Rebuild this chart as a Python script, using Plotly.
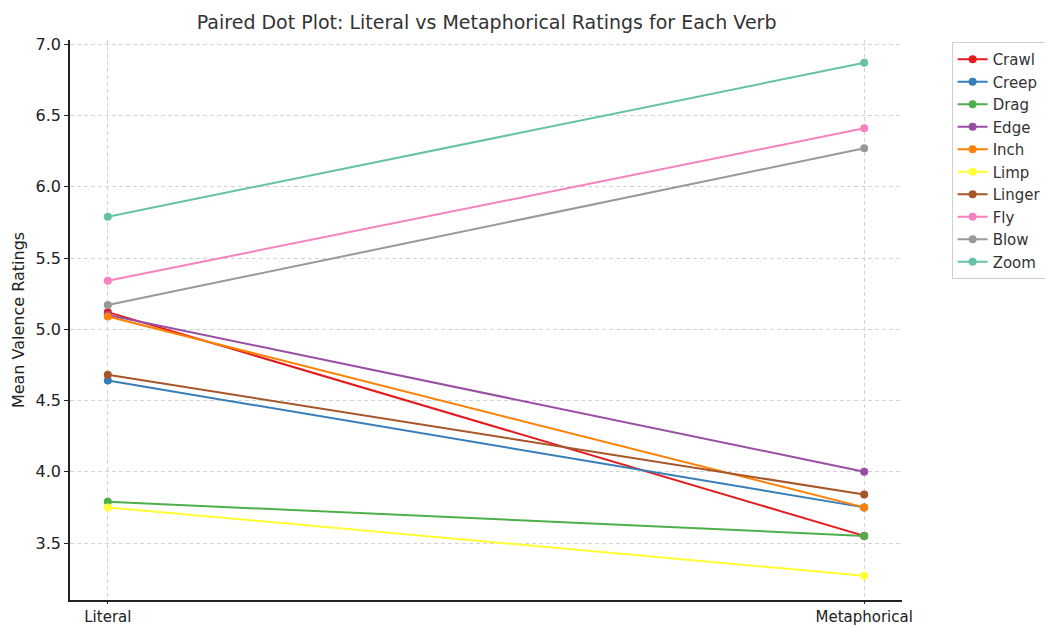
import plotly.graph_objects as go

# ── Data ─────────────────────────────────────────────────────────────────────
conditions = ["Literal", "Metaphorical"]
verbs = ["Crawl", "Creep", "Drag", "Edge", "Inch", "Limp", "Linger", "Fly", "Blow", "Zoom"]
literal = [5.12, 4.64, 3.79, 5.10, 5.09, 3.75, 4.68, 5.34, 5.17, 5.79]
metaphorical = [3.55, 3.75, 3.55, 4.00, 3.75, 3.27, 3.84, 6.41, 6.27, 6.87]
colors = ["#e41a1c", "#377eb8", "#4daf4a", "#984ea3", "#ff7f00",
          "#ffff33", "#a65628", "#f781bf", "#999999", "#66c2a5"]
y_ticks = [3.5, 4.0, 4.5, 5.0, 5.5, 6.0, 6.5, 7.0]

fig = go.Figure()
for verb, lit, met, col in zip(verbs, literal, metaphorical, colors):
    fig.add_trace(go.Scatter(
        x=[0, 1],
        y=[lit, met],
        mode="lines+markers",
        name=verb,
        line=dict(color=col, width=2),
        marker=dict(color=col, size=8),
    ))

grid = dict(showgrid=True, gridcolor="#d3d3d3", griddash="4px,3px", gridwidth=1,
            zeroline=False, showline=True, linecolor="#222222", linewidth=1.5,
            ticks="outside", tickcolor="#222222", automargin=False)

# the page body adds an 8px offset, so the figure is sized a bit smaller
fig.update_layout(
    width=1045, height=617,
    title=dict(text="Paired Dot Plot: Literal vs Metaphorical Ratings for Each Verb",
               x=0.458, xanchor="center", y=0.977, yanchor="middle",
               font=dict(size=19, color="#333333")),
    font=dict(family="DejaVu Sans", color="#222222"),
    paper_bgcolor="white", plot_bgcolor="white",
    margin=dict(l=62, r=151, t=32, b=25),
    xaxis=dict(range=[-0.05, 1.05], tickvals=[0, 1], ticktext=conditions,
               ticklen=2, tickfont=dict(size=15, color="#222222"), **grid),
    yaxis=dict(range=[3.1, 7.03], tickvals=y_ticks, tickformat=".1f",
               ticklen=4, tickfont=dict(size=16, color="#222222"),
               title=dict(text="Mean Valence Ratings", font=dict(size=16), standoff=7),
               **grid),
    legend=dict(xref="container", yref="container", x=0.903, y=0.945,
                xanchor="left", yanchor="top",
                bordercolor="#d0d0d0", borderwidth=1, bgcolor="white",
                font=dict(size=15, color="#333333"), tracegroupgap=0,
                itemwidth=30),
    showlegend=True,
)

fig.write_html("out.html")
